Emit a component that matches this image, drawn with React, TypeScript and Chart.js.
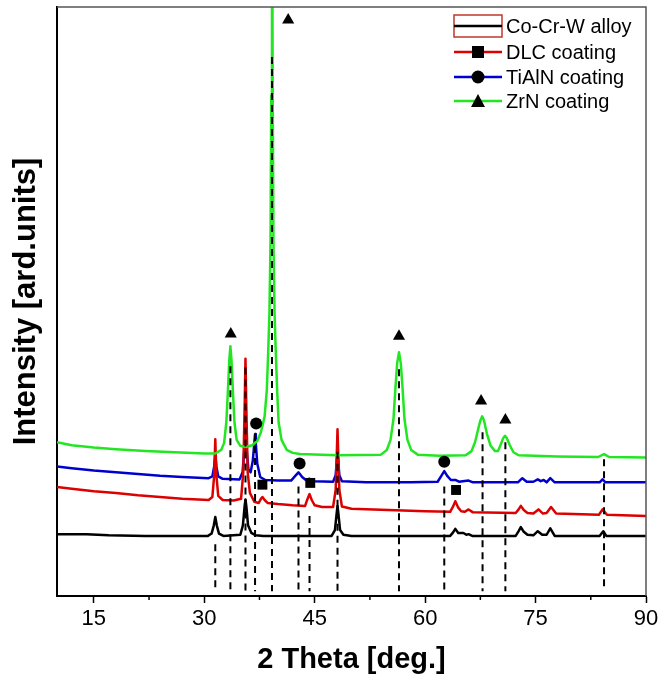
import React, { useEffect, useRef } from "react";
import { Chart, registerables } from "chart.js";

Chart.register(...registerables);

// ---------- data ----------
const X_TICKS = [15, 30, 45, 60, 75, 90];
const X_MINOR_TICKS = [22.5, 37.5, 52.5, 67.5, 82.5];
const SERIES_NAMES = ["Co-Cr-W alloy", "DLC coating", "TiAlN coating", "ZrN coating"];

const alloyPoints: [number, number][] = [
  [10, 10.5], [14, 10.5], [17, 10.3], [22, 10.2], [30.5, 10.2], [31.0, 10.6], [31.3, 12.0], [31.5, 13.4],
  [31.7, 12.0], [32.0, 10.6], [32.6, 10.2], [34.9, 10.4], [35.25, 12.0], [35.48, 15.2], [35.6, 16.4],
  [35.72, 15.2], [35.95, 12.0], [36.4, 10.7], [37.0, 10.3], [38.0, 10.2], [47.3, 10.2], [47.75, 11.2],
  [47.98, 14.0], [48.1, 15.3], [48.22, 14.0], [48.45, 11.2], [48.9, 10.4], [50, 10.2], [63.4, 10.2],
  [63.8, 10.8], [64.1, 11.4], [64.5, 10.7], [65.2, 10.7], [65.6, 10.4], [65.9, 10.5], [66.4, 10.2], [72.3, 10.2],
  [72.7, 11.0], [73.0, 11.7], [73.4, 10.9], [73.9, 10.4], [74.7, 10.3], [75.3, 11.0], [75.9, 10.4],
  [76.5, 10.4], [77.0, 11.5], [77.6, 10.2], [83.7, 10.2], [84.2, 11.0], [84.6, 10.2], [90, 10.2],
];

const dlcPoints: [number, number][] = [
  [10, 18.5], [12, 18.2], [15, 17.8], [18, 17.5], [21, 17.1], [24, 16.8], [27, 16.5], [30.6, 16.3],
  [31.1, 16.8], [31.35, 20.5], [31.5, 26.6], [31.65, 20.5], [31.9, 17.0], [32.5, 16.3], [34.0, 16.2],
  [35.0, 16.5], [35.3, 21], [35.5, 33], [35.6, 40.3], [35.7, 33], [35.9, 21], [36.2, 17.5], [36.8, 16.0],
  [37.4, 15.8], [37.7, 16.5], [37.9, 16.8], [38.2, 16.3], [38.6, 15.8], [40, 15.6], [42, 15.4],
  [43.7, 15.3], [44.0, 16.4], [44.3, 17.3], [44.6, 16.3], [45.0, 15.4], [46, 15.1], [47.5, 15.1],
  [47.85, 18], [48.0, 24], [48.1, 28.3], [48.2, 24], [48.35, 18], [48.7, 15.2], [50, 14.8], [55, 14.6],
  [60, 14.4], [63.4, 14.3], [63.8, 15.2], [64.1, 16.1], [64.5, 15.0], [64.9, 14.4], [65.4, 14.3],
  [65.9, 14.7], [66.5, 14.2], [72.3, 14.1], [72.7, 14.7], [73.0, 15.3], [73.4, 14.6], [73.9, 14.1],
  [74.7, 14.0], [75.4, 14.7], [76.0, 14.0], [76.5, 14.1], [77.1, 15.1], [77.8, 14.0], [83.6, 13.8],
  [84.1, 14.7], [84.7, 13.8], [90, 13.6],
];

const tialnPoints: [number, number][] = [
  [10, 22.0], [12, 21.7], [15, 21.3], [18, 21.0], [21, 20.7], [24, 20.4], [27, 20.2], [30.6, 20.0],
  [31.1, 20.3], [31.35, 22], [31.5, 24.0], [31.65, 22], [31.9, 20.3], [32.5, 19.9], [34.8, 19.8],
  [35.2, 21], [35.45, 25], [35.6, 28.3], [35.75, 25], [36.0, 21.5], [36.3, 21], [36.6, 23], [36.8, 26],
  [36.9, 27.5], [37.0, 26], [37.2, 22.5], [37.6, 20.2], [38.3, 19.7], [40, 19.6], [41.8, 19.6],
  [42.3, 20.3], [42.8, 21.0], [43.3, 20.2], [43.8, 19.7], [44.3, 19.9], [44.8, 19.5], [47.5, 19.4],
  [47.85, 20.5], [48.0, 23], [48.1, 24.4], [48.2, 23], [48.35, 20.5], [48.7, 19.5], [52, 19.3],
  [58, 19.3], [61.7, 19.4], [62.2, 20.4], [62.6, 21.2], [63.0, 20.4], [63.5, 19.7], [64.1, 19.7],
  [64.6, 19.4], [65.9, 19.6], [66.5, 19.3], [72.6, 19.3], [73.2, 20.0], [73.8, 19.4], [74.7, 19.4],
  [75.3, 19.8], [75.7, 19.5], [76.1, 19.7], [76.5, 19.3], [77.0, 20.0], [77.6, 19.3], [83.7, 19.3],
  [84.1, 19.8], [84.5, 19.3], [90, 19.3],
];

const zrnPoints: [number, number][] = [
  [10, 26.1], [12, 25.6], [15, 25.2], [18, 24.9], [22, 24.6], [26, 24.4], [30, 24.2], [31.5, 24.2],
  [32.3, 24.8], [32.7, 26], [33.0, 29.5], [33.2, 34.5], [33.4, 40], [33.55, 42.4], [33.7, 40],
  [33.9, 34.5], [34.1, 29.5], [34.4, 26.5], [34.9, 25.5], [35.6, 25.3], [36.5, 25.6], [37.2, 26.3],
  [37.7, 27.8], [38.2, 30.5], [38.5, 35], [38.7, 42], [38.85, 48], [39.0, 60], [39.1, 85], [39.2, 125],
  [39.3, 85], [39.4, 60], [39.55, 48], [39.7, 42], [39.9, 35], [40.1, 29.5], [40.5, 26.5], [41.2, 24.8],
  [42, 24.3], [43, 24.1], [48, 23.9], [54.0, 24.0], [54.8, 24.8], [55.3, 26.5], [55.7, 30], [55.95, 35],
  [56.2, 39.5], [56.45, 41.4], [56.7, 39.5], [56.95, 35], [57.2, 30], [57.6, 26.5], [58.1, 24.8],
  [59, 24.0], [62, 23.8], [65.5, 23.9], [66.3, 24.6], [66.8, 26.2], [67.2, 28.3], [67.5, 29.8],
  [67.75, 30.5], [68.0, 29.8], [68.4, 27.5], [68.9, 25.5], [69.5, 24.6], [69.9, 24.6], [70.3, 25.8],
  [70.6, 26.8], [70.85, 27.2], [71.1, 26.8], [71.5, 25.6], [72.0, 24.4], [72.7, 23.9], [78, 23.7],
  [83.5, 23.6], [84.3, 24.1], [85, 23.6], [90, 23.5],
];

// reference (dashed) lines: position, top, bottom
const refLineX = [31.5, 33.55, 35.6, 36.9, 39.2, 42.8, 44.3, 48.1, 56.45, 62.6, 67.8, 70.9, 84.3];
const refLineTop = [8.8, 39.0, 38.8, 27.5, 91.5, 18.6, 13.6, 24.5, 38.5, 18.6, 27.8, 26.1, 23.2];
const refLineBottom = 0.8;

// phase markers
const zrnMarkers: [number, number][] = [[41.4, 97.8], [33.6, 44.5], [56.45, 44.1], [67.6, 33.1], [70.9, 29.9]];
const tialnMarkers: [number, number][] = [[37.05, 29.3], [42.95, 22.5], [62.6, 22.8]];
const dlcMarkers: [number, number][] = [[37.9, 18.9], [44.4, 19.2], [64.2, 18.0]];

// ---------- styles ----------
const FONT = '"Liberation Sans", Arial, sans-serif';
const COLORS = ["#000000", "#dd0000", "#0000cc", "#22e622"];

const toXY = (pts: [number, number][]) => pts.map(([x, y]) => ({ x, y }));

const decorPlugin = {
  id: "decor",
  afterDraw(chart: any) {
    const { ctx, chartArea: a, scales } = chart;
    ctx.save();
    // top & right frame
    ctx.strokeStyle = "#555";
    ctx.lineWidth = 1.5;
    ctx.beginPath();
    ctx.moveTo(a.left, a.top);
    ctx.lineTo(a.right, a.top);
    ctx.lineTo(a.right, a.bottom);
    ctx.stroke();
    // minor ticks
    ctx.strokeStyle = "#000";
    ctx.lineWidth = 1.5;
    X_MINOR_TICKS.forEach((v) => {
      const px = scales.x.getPixelForValue(v);
      ctx.beginPath();
      ctx.moveTo(px, a.bottom);
      ctx.lineTo(px, a.bottom + 4);
      ctx.stroke();
    });
    // legend
    const lx0 = 454, lx1 = 502, mx = 478, tx = 506;
    const rows = [26, 52, 77, 101];
    ctx.font = `20px ${FONT}`;
    ctx.textBaseline = "middle";
    ctx.textAlign = "left";
    rows.forEach((ry, i) => {
      if (i === 0) {
        ctx.strokeStyle = "#c0392b";
        ctx.lineWidth = 1.5;
        ctx.strokeRect(lx0, ry - 11, lx1 - lx0, 22);
      }
      ctx.strokeStyle = COLORS[i];
      ctx.lineWidth = 2.5;
      ctx.beginPath();
      ctx.moveTo(lx0, ry);
      ctx.lineTo(lx1, ry);
      ctx.stroke();
      ctx.fillStyle = "#000";
      if (i === 1) {
        ctx.fillRect(mx - 6, ry - 6, 12, 12);
      } else if (i === 2) {
        ctx.beginPath();
        ctx.arc(mx, ry, 6.5, 0, Math.PI * 2);
        ctx.fill();
      } else if (i === 3) {
        ctx.beginPath();
        ctx.moveTo(mx, ry - 7);
        ctx.lineTo(mx + 7, ry + 6);
        ctx.lineTo(mx - 7, ry + 6);
        ctx.closePath();
        ctx.fill();
      }
      ctx.fillStyle = "#000";
      ctx.fillText(SERIES_NAMES[i], tx, ry + 1);
    });
    ctx.restore();
  },
};

export default function App() {
  const ref = useRef<HTMLCanvasElement | null>(null);

  useEffect(() => {
    if (!ref.current) return;
    const curve = (pts: [number, number][], color: string, order: number) => ({
      data: toXY(pts),
      showLine: true,
      borderColor: color,
      backgroundColor: color,
      borderWidth: 2.5,
      borderJoinStyle: "round",
      pointRadius: 0,
      tension: 0,
      order,
    });
    const dashDatasets = refLineX.map((x, i) => ({
      data: [{ x, y: refLineTop[i] }, { x, y: refLineBottom }],
      showLine: true,
      borderColor: "#000",
      borderWidth: 2,
      borderDash: [7, 5],
      pointRadius: 0,
      order: 1,
    }));
    const markers = (pts: [number, number][], style: string, r: number) => ({
      data: toXY(pts),
      showLine: false,
      pointStyle: style,
      pointRadius: r,
      pointBackgroundColor: "#000",
      pointBorderColor: "#000",
      pointBorderWidth: 0,
      order: 0,
      clip: false,
    });

    const chart = new Chart(ref.current, {
      type: "scatter",
      data: {
        datasets: [
          markers(zrnMarkers, "triangle", 7),
          markers(tialnMarkers, "circle", 6),
          markers(dlcMarkers, "rect", 7),
          ...dashDatasets,
          curve(zrnPoints, COLORS[3], 2),
          curve(dlcPoints, COLORS[1], 3),
          curve(tialnPoints, COLORS[2], 4),
          curve(alloyPoints, COLORS[0], 5),
        ] as any,
      },
      options: {
        animation: false,
        responsive: false,
        layout: { padding: { top: 7, right: 18, left: 0, bottom: 0 } },
        plugins: { legend: { display: false }, tooltip: { enabled: false } },
        scales: {
          x: {
            type: "linear",
            min: 10,
            max: 90,
            afterBuildTicks: (s: any) => {
              s.ticks = X_TICKS.map((v) => ({ value: v }));
            },
            afterFit: (s: any) => {
              s.height = 83;
            },
            ticks: {
              color: "#000",
              font: { family: FONT, size: 22 },
              padding: 3,
              autoSkip: false,
              maxRotation: 0,
            },
            grid: { drawOnChartArea: false, drawTicks: true, tickLength: 7, tickWidth: 1.5, tickColor: "#000" },
            border: { color: "#000", width: 2 },
            title: {
              display: true,
              text: "2 Theta [deg.]",
              color: "#000",
              font: { family: FONT, size: 29, weight: "bold" },
              padding: { top: 0, bottom: 2 },
            },
          },
          y: {
            type: "linear",
            min: 0,
            max: 100,
            ticks: { display: false },
            grid: { display: false },
            border: { color: "#000", width: 2 },
            afterFit: (s: any) => {
              s.width = 57;
            },
            title: {
              display: true,
              text: "Intensity [ard.units]",
              color: "#000",
              font: { family: FONT, size: 31, weight: "bold" },
              padding: { top: 8, bottom: 0 },
            },
          },
        },
      } as any,
      plugins: [decorPlugin],
    });
    return () => chart.destroy();
  }, []);

  return (
    <div style={{ position: "absolute", left: 0, top: 0, width: 664, height: 679, background: "#fff" }}>
      <canvas ref={ref} width={664} height={679} style={{ width: 664, height: 679 }} />
    </div>
  );
}
